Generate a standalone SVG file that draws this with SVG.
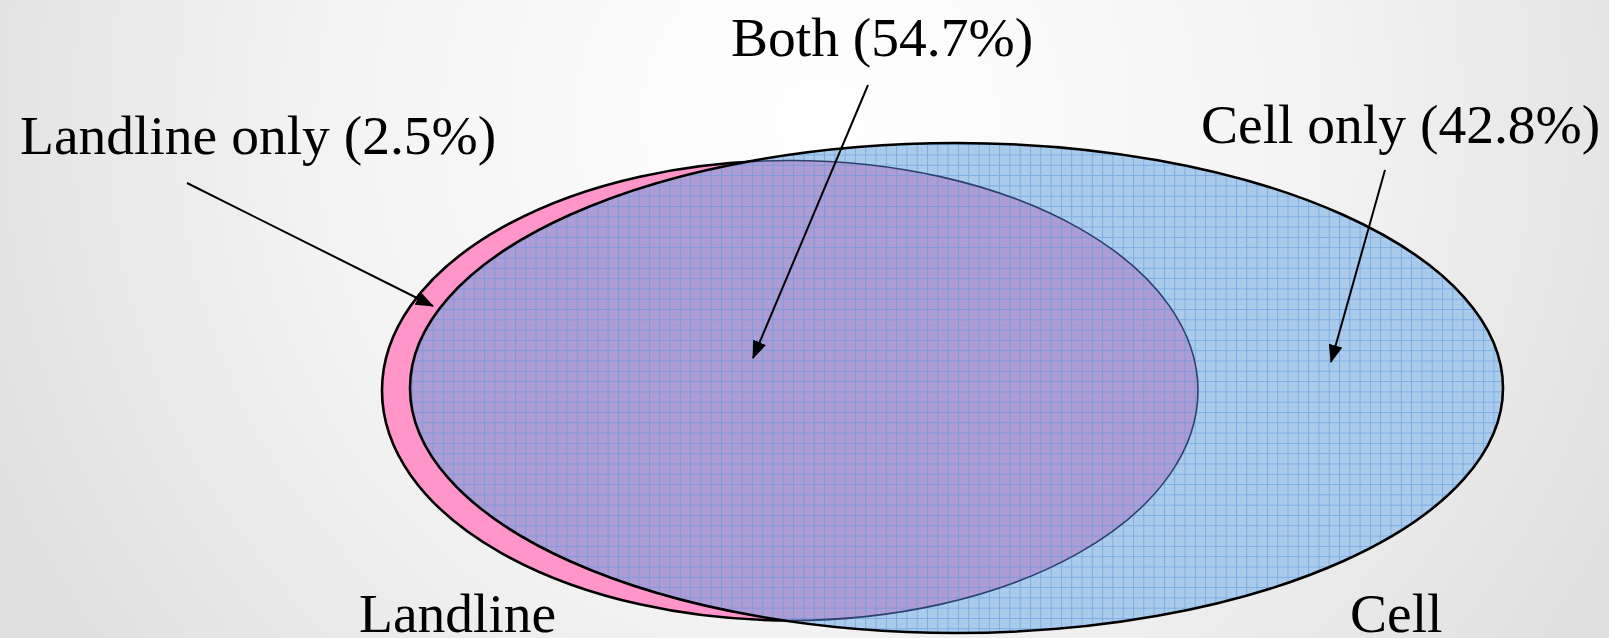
<svg xmlns="http://www.w3.org/2000/svg" width="1609" height="638" viewBox="0 0 1609 638">
  <defs>
    <radialGradient id="bg" cx="820" cy="120" r="900" gradientUnits="userSpaceOnUse">
      <stop offset="0" stop-color="#ffffff"/>
      <stop offset="0.55" stop-color="#f3f3f3"/>
      <stop offset="1" stop-color="#e0e0e0"/>
    </radialGradient>
    <pattern id="grid" patternUnits="userSpaceOnUse" x="0" y="0" width="10.3" height="10.3">
      <path d="M0,0.5 H10.3 M0.5,0 V10.3" stroke="#5b98df" stroke-width="1" stroke-opacity="0.6" fill="none"/>
      <rect x="5" y="5" width="1" height="1" fill="#5b98df" fill-opacity="0.3"/>
    </pattern>
    <clipPath id="cellClip">
      <ellipse cx="956.5" cy="388" rx="546.5" ry="245"/>
    </clipPath>
    <marker id="arrow" viewBox="0 0 18 14" markerWidth="18" markerHeight="14" refX="17" refY="7" orient="auto" markerUnits="userSpaceOnUse">
      <path d="M0,0 L18,7 L0,14 z" fill="#000"/>
    </marker>
    <style>
      .lbl { font-family: "Liberation Serif", "Times New Roman", serif; font-size: 55.5px; fill: #000; }
      .outline { fill: none; stroke: #000; stroke-width: 2.6; }
      .conn { stroke: #000; stroke-width: 2; fill: none; marker-end: url(#arrow); }
    </style>
  </defs>

  <rect width="1609" height="638" fill="url(#bg)"/>

  <g id="landline">
    <ellipse cx="790" cy="390.5" rx="408" ry="230" fill="#ff95c9" stroke="#000" stroke-width="2.6"/>
  </g>

  <g id="cell">
    <ellipse cx="956.5" cy="388" rx="546.5" ry="245" fill="#abcbeb"/>
  </g>

  <g id="both">
    <ellipse cx="790" cy="390.5" rx="408" ry="230" fill="#ae9cd5" clip-path="url(#cellClip)"/>
    <ellipse cx="956.5" cy="388" rx="546.5" ry="245" fill="url(#grid)"/>
    <ellipse cx="790" cy="390.5" rx="408" ry="230" fill="none" stroke="#2b426e" stroke-width="1.6" clip-path="url(#cellClip)"/>
    <ellipse cx="956.5" cy="388" rx="546.5" ry="245" class="outline"/>
  </g>

  <g id="labels">
    <text class="lbl" x="20" y="154">Landline only (2.5%)</text>
    <text class="lbl" x="731" y="56">Both (54.7%)</text>
    <text class="lbl" x="1201" y="143">Cell only (42.8%)</text>
    <text class="lbl" x="359" y="632">Landline</text>
    <text class="lbl" x="1350" y="632">Cell</text>
  </g>

  <g id="connectors">
    <line class="conn" x1="187" y1="183" x2="433" y2="306"/>
    <line class="conn" x1="868" y1="85" x2="753" y2="358"/>
    <line class="conn" x1="1385" y1="170" x2="1331" y2="362"/>
  </g>
</svg>
